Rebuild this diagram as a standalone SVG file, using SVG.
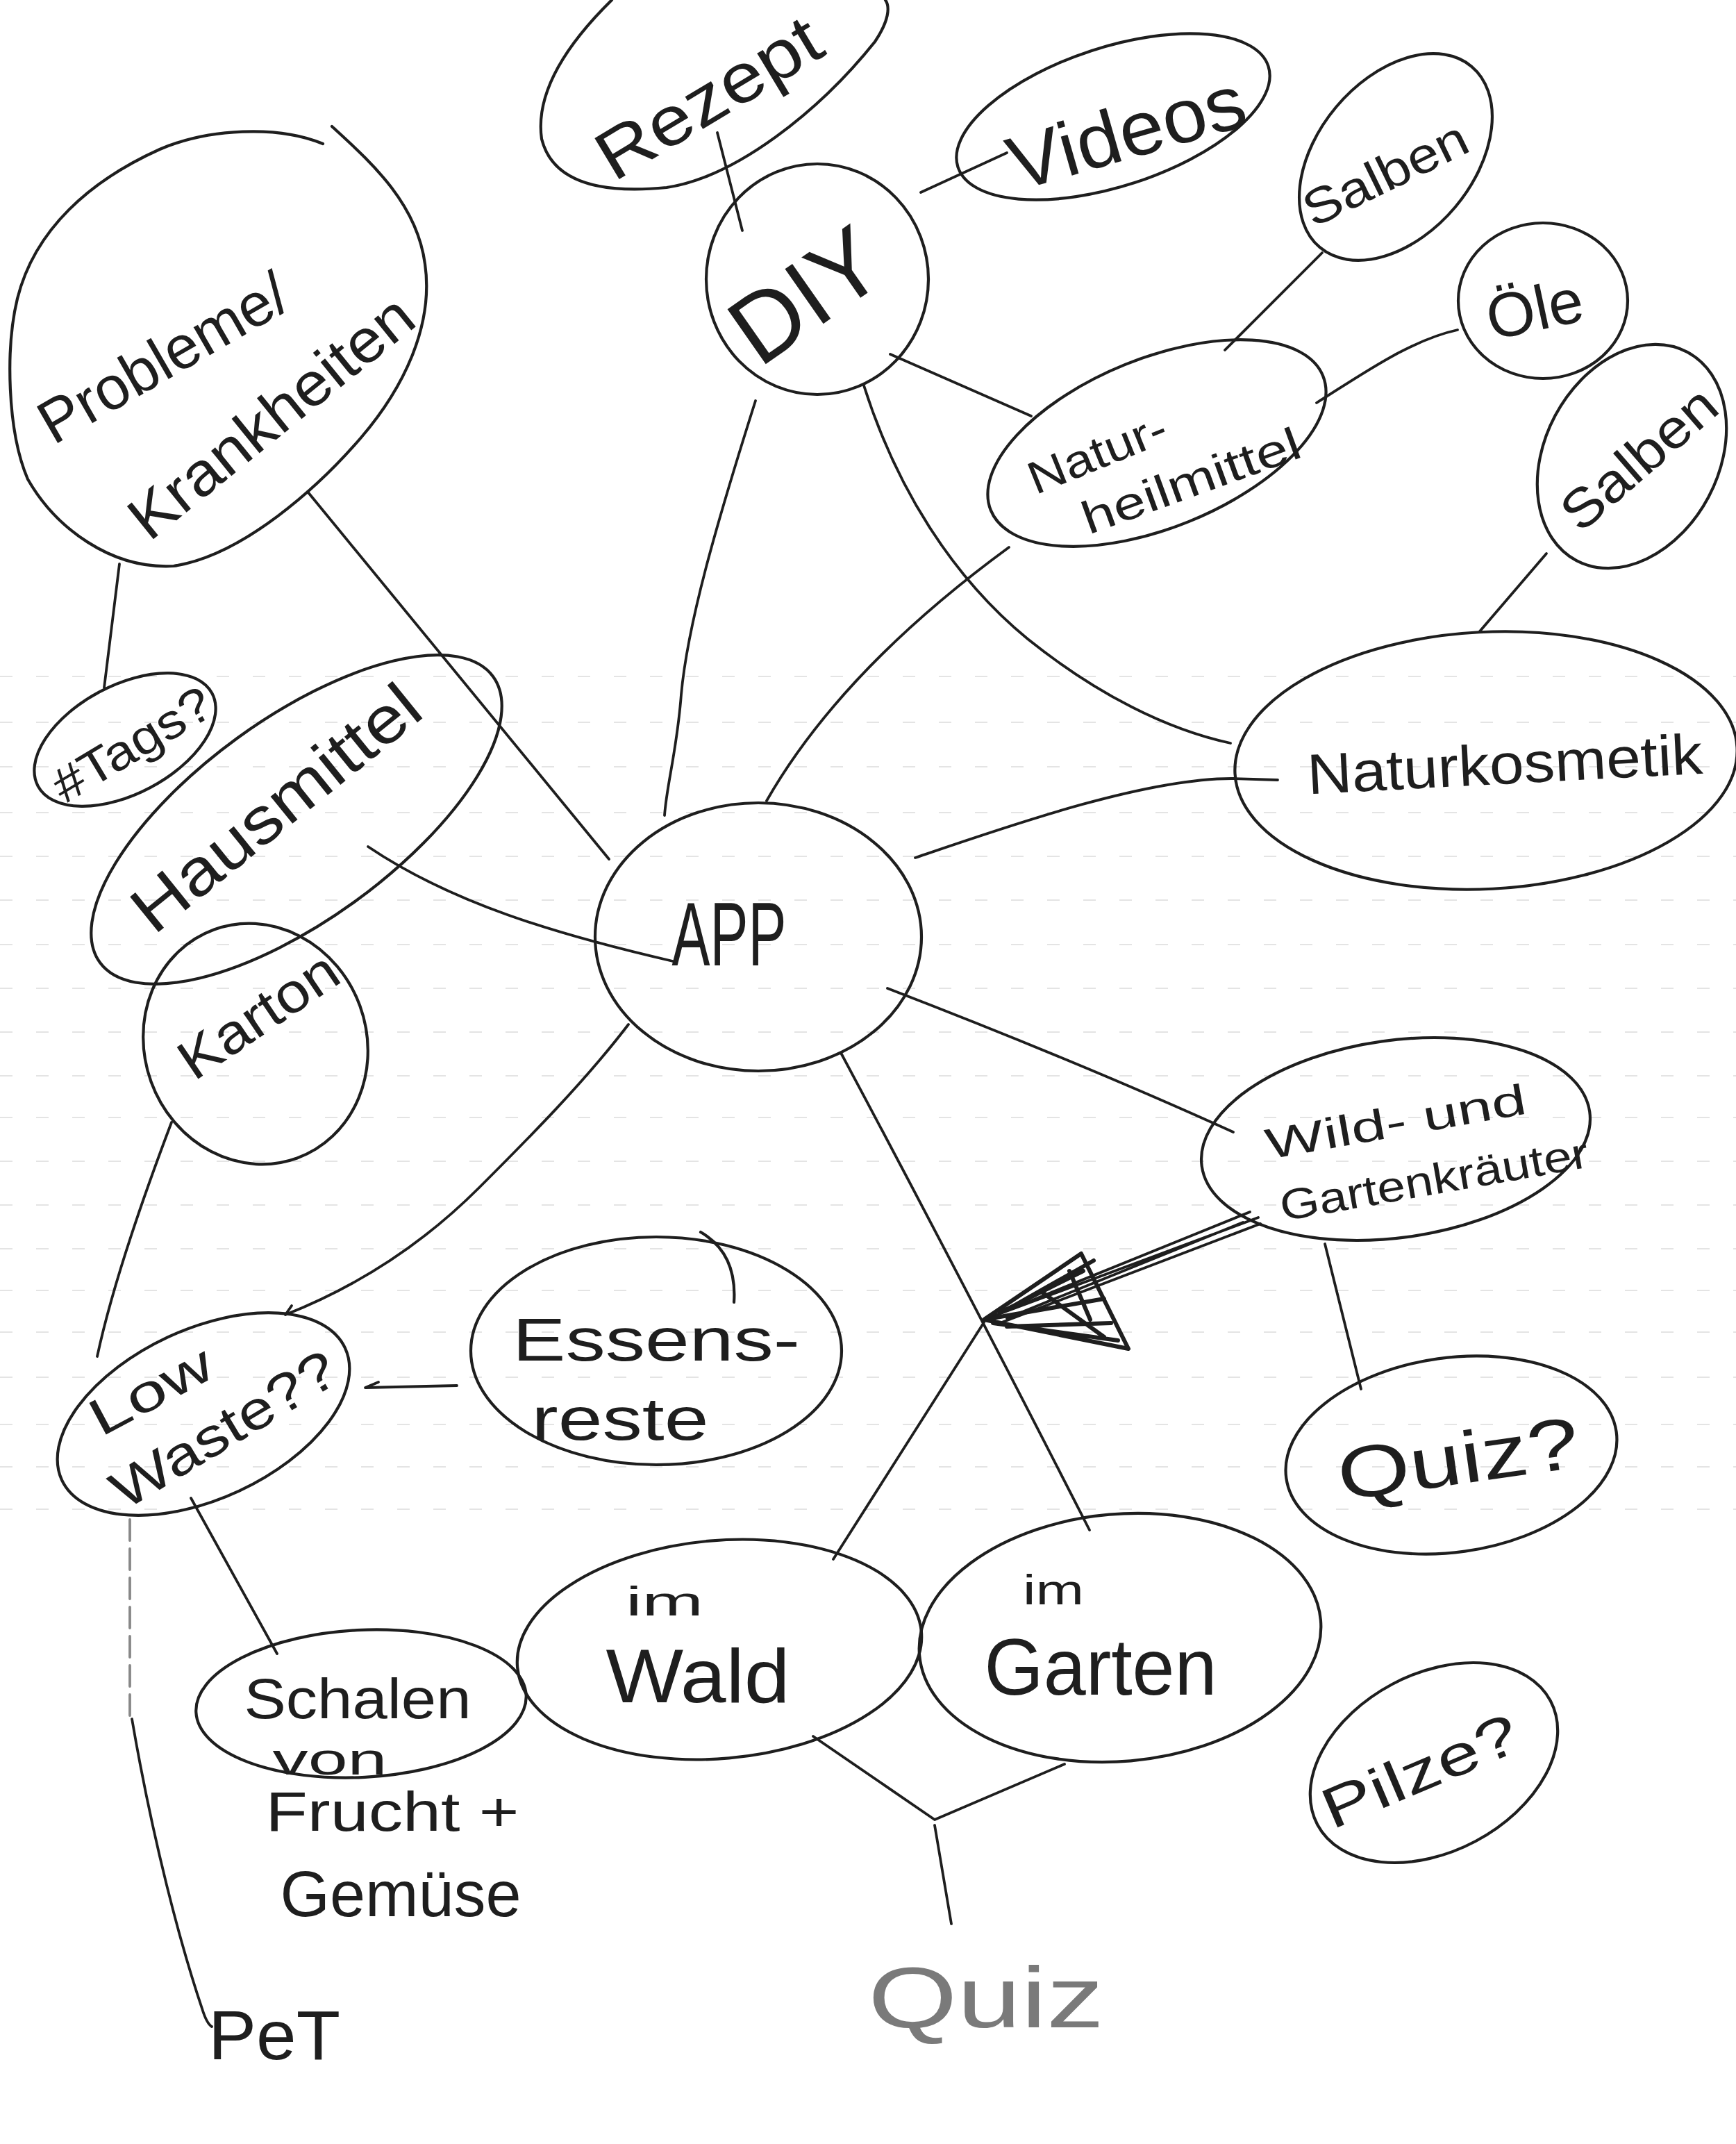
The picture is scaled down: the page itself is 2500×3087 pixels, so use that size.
<svg xmlns="http://www.w3.org/2000/svg" width="2500" height="3087" viewBox="0 0 2500 3087">
<style>
.o{fill:none;stroke:#1e1e1e;stroke-width:4.2;stroke-linecap:round;stroke-linejoin:round}
.c{fill:none;stroke:#1e1e1e;stroke-width:3.8;stroke-linecap:round;stroke-linejoin:round}
.t{font-family:"Liberation Sans",Arial,sans-serif;fill:#1e1e1e;text-anchor:middle;dominant-baseline:central}
.rule{stroke:#e4e4e4;stroke-width:2;stroke-dasharray:18 34}
</style>
<rect width="2500" height="3087" fill="#ffffff"/>
<g id="paper-lines">
<line class="rule" x1="0" y1="974" x2="2500" y2="974"/>
<line class="rule" x1="0" y1="1040" x2="2500" y2="1040"/>
<line class="rule" x1="0" y1="1104" x2="2500" y2="1104"/>
<line class="rule" x1="0" y1="1170" x2="2500" y2="1170"/>
<line class="rule" x1="0" y1="1233" x2="2500" y2="1233"/>
<line class="rule" x1="0" y1="1296" x2="2500" y2="1296"/>
<line class="rule" x1="0" y1="1360" x2="2500" y2="1360"/>
<line class="rule" x1="0" y1="1423" x2="2500" y2="1423"/>
<line class="rule" x1="0" y1="1486" x2="2500" y2="1486"/>
<line class="rule" x1="0" y1="1549" x2="2500" y2="1549"/>
<line class="rule" x1="0" y1="1609" x2="2500" y2="1609"/>
<line class="rule" x1="0" y1="1672" x2="2500" y2="1672"/>
<line class="rule" x1="0" y1="1735" x2="2500" y2="1735"/>
<line class="rule" x1="0" y1="1798" x2="2500" y2="1798"/>
<line class="rule" x1="0" y1="1858" x2="2500" y2="1858"/>
<line class="rule" x1="0" y1="1918" x2="2500" y2="1918"/>
<line class="rule" x1="0" y1="1983" x2="2500" y2="1983"/>
<line class="rule" x1="0" y1="2051" x2="2500" y2="2051"/>
<line class="rule" x1="0" y1="2112" x2="2500" y2="2112"/>
<line class="rule" x1="0" y1="2173" x2="2500" y2="2173"/>
</g>
<g id="connectors">
<path class="c" d="M1033,191 L1069,332"/>
<path class="c" d="M1326,277 L1450,220"/>
<path class="c" d="M1282,510 L1485,599"/>
<path class="c" d="M1764,504 L1904,364"/>
<path class="c" d="M1896,580 C1960,540 2030,490 2099,475"/>
<path class="c" d="M2227,797 L2131,909"/>
<path class="c" d="M1244,555 C1290,700 1370,830 1480,920 C1580,1000 1680,1050 1772,1070"/>
<path class="c" d="M1088,577 C1030,760 990,900 981,1000 C975,1080 960,1130 957,1174"/>
<path class="c" d="M1453,788 C1300,900 1180,1020 1104,1153"/>
<path class="c" d="M1318,1235 C1450,1190 1650,1120 1776,1121 L1840,1123"/>
<path class="c" d="M1278,1423 C1400,1470 1600,1550 1776,1630"/>
<path class="c" d="M1211,1516 C1320,1720 1440,1950 1569,2203"/>
<path class="c" d="M1812,1753 L1417,1900 M1800,1745 L1430,1895 M1815,1762 L1440,1905 M1790,1760 L1450,1898"/>
<path class="o" style="stroke-width:6" d="M1417,1900 L1557,1805 L1625,1942 Z M1417,1900 L1590,1870 M1440,1890 L1560,1830 M1430,1905 L1610,1930 M1500,1860 L1590,1925 M1460,1880 L1575,1815 M1450,1910 L1600,1905 M1540,1830 L1570,1900"/>
<path class="c" d="M1417,1904 L1200,2245"/>
<path class="c" d="M1171,2500 L1346,2620 L1533,2540 M1346,2628 L1370,2770"/>
<path class="c" d="M172,812 L150,990"/>
<path class="c" d="M443,708 L877,1237"/>
<path class="c" d="M530,1219 C650,1300 800,1345 969,1384"/>
<path class="c" d="M247,1616 C200,1740 160,1860 140,1953"/>
<path class="c" d="M905,1475 C840,1560 760,1640 690,1710 C610,1790 520,1850 411,1893 L420,1880"/>
<path class="c" d="M658,1995 L526,1998 L545,1990"/>
<path class="c" d="M275,2157 L399,2381"/>
<path class="c" style="stroke:#888;stroke-dasharray:30 12" d="M187,2188 L187,2475"/>
<path class="c" d="M190,2475 C220,2650 260,2800 291,2892 C295,2905 300,2915 305,2918"/>
<path class="c" d="M1908,1791 L1960,2000"/>
</g>
<g id="node-rezept">
<path class="o" d="M881,0 C820,60 770,130 780,200 C795,260 860,280 960,270 C1060,255 1180,160 1260,60 C1280,30 1282,10 1275,0"/>
<text class="t" x="1020" y="140" font-size="100" textLength="360" lengthAdjust="spacingAndGlyphs" transform="rotate(-31 1020 140)">Rezept</text>
</g>
<g id="node-diy">
<ellipse class="o" cx="1177" cy="402" rx="160" ry="166"/>
<text class="t" x="1160" y="425" font-size="140" textLength="230" lengthAdjust="spacingAndGlyphs" transform="rotate(-35 1160 425)">DIY</text>
</g>
<g id="node-videos">
<ellipse class="o" cx="1603" cy="168" rx="235" ry="100" transform="rotate(-18 1603 168)"/>
<text class="t" x="1622" y="190" font-size="110" textLength="350" lengthAdjust="spacingAndGlyphs" transform="rotate(-16 1622 190)">Videos</text>
</g>
<g id="node-salben1">
<ellipse class="o" cx="2010" cy="226" rx="170" ry="112" transform="rotate(-50 2010 226)"/>
<text class="t" x="1995" y="250" font-size="72" textLength="255" lengthAdjust="spacingAndGlyphs" transform="rotate(-26 1995 250)">Salben</text>
</g>
<g id="node-oele">
<ellipse class="o" cx="2222" cy="433" rx="122" ry="112"/>
<text class="t" x="2210" y="445" font-size="90" transform="rotate(-12 2210 445)">Öle</text>
</g>
<g id="node-naturheilmittel">
<ellipse class="o" cx="1666" cy="638" rx="258" ry="122" transform="rotate(-22 1666 638)"/>
<text class="t" x="1580" y="652" font-size="66" textLength="210" lengthAdjust="spacingAndGlyphs" transform="rotate(-22 1580 652)">Natur-</text>
<text class="t" x="1715" y="692" font-size="66" textLength="330" lengthAdjust="spacingAndGlyphs" transform="rotate(-20 1715 692)">heilmittel</text>
</g>
<g id="node-salben2">
<ellipse class="o" cx="2350" cy="657" rx="170" ry="125" transform="rotate(-62 2350 657)"/>
<text class="t" x="2360" y="660" font-size="78" textLength="270" lengthAdjust="spacingAndGlyphs" transform="rotate(-41 2360 660)">Salben</text>
</g>
<g id="node-naturkosmetik">
<ellipse class="o" cx="2140" cy="1095" rx="362" ry="185" transform="rotate(-3 2140 1095)"/>
<text class="t" x="2167" y="1100" font-size="82" textLength="570" lengthAdjust="spacingAndGlyphs" transform="rotate(-3 2167 1100)">Naturkosmetik</text>
</g>
<g id="node-probleme">
<path class="o" d="M478,182 C530,230 600,290 612,380 C625,470 580,560 520,630 C460,700 350,800 250,815 C160,820 80,760 40,690 C10,620 8,500 25,430 C50,330 130,260 230,215 C300,185 400,180 465,207"/>
<text class="t" x="235" y="515" font-size="88" textLength="400" lengthAdjust="spacingAndGlyphs" transform="rotate(-30 235 515)">Probleme/</text>
<text class="t" x="390" y="600" font-size="88" textLength="500" lengthAdjust="spacingAndGlyphs" transform="rotate(-39 390 600)">Krankheiten</text>
</g>
<g id="node-tags">
<ellipse class="o" cx="180" cy="1065" rx="142" ry="78" transform="rotate(-28 180 1065)"/>
<text class="t" x="190" y="1072" font-size="70" textLength="255" lengthAdjust="spacingAndGlyphs" transform="rotate(-31 190 1072)">#Tags?</text>
</g>
<g id="node-hausmittel">
<ellipse class="o" cx="427" cy="1180" rx="350" ry="145" transform="rotate(-36 427 1180)"/>
<text class="t" x="397" y="1163" font-size="95" textLength="505" lengthAdjust="spacingAndGlyphs" transform="rotate(-39 397 1163)">Hausmittel</text>
</g>
<g id="node-karton">
<ellipse class="o" cx="368" cy="1503" rx="160" ry="175" transform="rotate(-20 368 1503)"/>
<text class="t" x="372" y="1462" font-size="80" textLength="260" lengthAdjust="spacingAndGlyphs" transform="rotate(-34 372 1462)">Karton</text>
</g>
<g id="node-app">
<ellipse class="o" cx="1092" cy="1349" rx="235" ry="193"/>
<text class="t" x="1050" y="1345" font-size="130" textLength="165" lengthAdjust="spacingAndGlyphs">APP</text>
</g>
<g id="node-lowwaste">
<ellipse class="o" cx="293" cy="2036" rx="225" ry="122" transform="rotate(-25 293 2036)"/>
<text class="t" x="217" y="2002" font-size="75" textLength="190" lengthAdjust="spacingAndGlyphs" transform="rotate(-28 217 2002)">Low</text>
<text class="t" x="322" y="2058" font-size="78" textLength="365" lengthAdjust="spacingAndGlyphs" transform="rotate(-31 322 2058)">Waste??</text>
</g>
<g id="node-essensreste">
<ellipse class="o" cx="945" cy="1945" rx="267" ry="164"/>
<path class="o" d="M1009,1774 C1045,1795 1060,1830 1057,1875"/>
<text class="t" x="945" y="1928" font-size="88" textLength="414" lengthAdjust="spacingAndGlyphs">Essens-</text>
<text class="t" x="893" y="2042" font-size="88" textLength="255" lengthAdjust="spacingAndGlyphs">reste</text>
</g>
<g id="node-schalen">
<ellipse class="o" cx="520" cy="2453" rx="238" ry="106" transform="rotate(-3 520 2453)"/>
<text class="t" x="515" y="2445" font-size="82" textLength="327" lengthAdjust="spacingAndGlyphs">Schalen</text>
<text class="t" x="475" y="2533" font-size="64" textLength="165" lengthAdjust="spacingAndGlyphs">von</text>
<text class="t" x="565" y="2608" font-size="80" textLength="365" lengthAdjust="spacingAndGlyphs">Frucht +</text>
<text class="t" x="577" y="2727" font-size="92" textLength="347" lengthAdjust="spacingAndGlyphs">Gemüse</text>
</g>
<g id="node-pet">
<text class="t" x="395" y="2930" font-size="100" textLength="190" lengthAdjust="spacingAndGlyphs">PeT</text>
</g>
<g id="node-wild">
<ellipse class="o" cx="2010" cy="1640" rx="282" ry="142" transform="rotate(-8 2010 1640)"/>
<text class="t" x="2010" y="1615" font-size="62" textLength="380" lengthAdjust="spacingAndGlyphs" transform="rotate(-10 2010 1615)">Wild- und</text>
<text class="t" x="2065" y="1698" font-size="62" textLength="450" lengthAdjust="spacingAndGlyphs" transform="rotate(-10 2065 1698)">Gartenkräuter</text>
</g>
<g id="node-quiz1">
<ellipse class="o" cx="2090" cy="2095" rx="240" ry="140" transform="rotate(-8 2090 2095)"/>
<text class="t" x="2100" y="2100" font-size="105" textLength="350" lengthAdjust="spacingAndGlyphs" transform="rotate(-8 2100 2100)">Quiz?</text>
</g>
<g id="node-wald">
<ellipse class="o" cx="1036" cy="2375" rx="292" ry="157" transform="rotate(-5 1036 2375)"/>
<text class="t" x="957" y="2305" font-size="60" textLength="112" lengthAdjust="spacingAndGlyphs">im</text>
<text class="t" x="1005" y="2412" font-size="110" textLength="265" lengthAdjust="spacingAndGlyphs">Wald</text>
</g>
<g id="node-garten">
<ellipse class="o" cx="1613" cy="2358" rx="290" ry="178" transform="rotate(-5 1613 2358)"/>
<text class="t" x="1517" y="2288" font-size="62" textLength="88" lengthAdjust="spacingAndGlyphs">im</text>
<text class="t" x="1585" y="2400" font-size="115" textLength="335" lengthAdjust="spacingAndGlyphs">Garten</text>
</g>
<g id="node-quiz2">
<text class="t" x="1420" y="2875" font-size="125" textLength="340" lengthAdjust="spacingAndGlyphs" style="fill:#7a7a7a">Quiz</text>
</g>
<g id="node-pilze">
<ellipse class="o" cx="2065" cy="2538" rx="190" ry="128" transform="rotate(-28 2065 2538)"/>
<text class="t" x="2045" y="2550" font-size="82" textLength="300" lengthAdjust="spacingAndGlyphs" transform="rotate(-23 2045 2550)">Pilze?</text>
</g>
</svg>
